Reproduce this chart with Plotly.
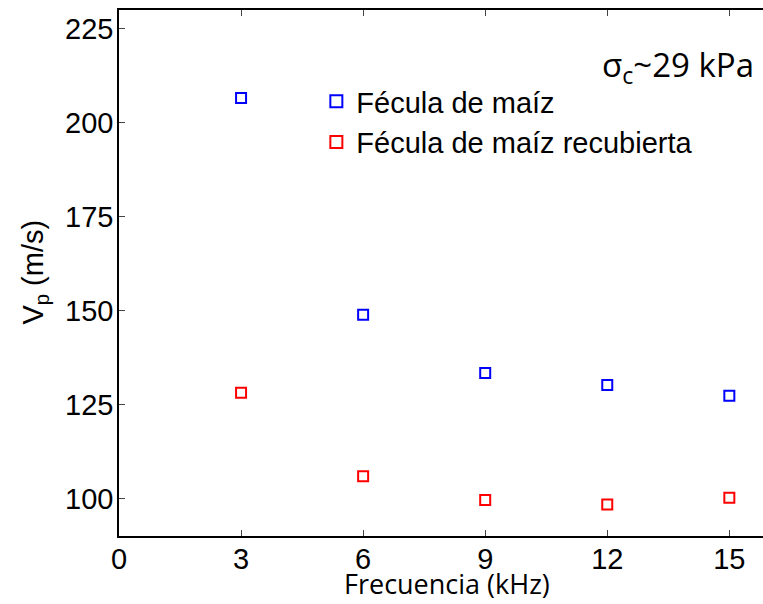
import plotly.graph_objects as go

freq = [3, 6, 9, 12, 15]
vp_plain = [206.6, 148.9, 133.4, 130.2, 127.3]
vp_coated = [128.1, 105.9, 99.6, 98.4, 100.2]
names = ["Fécula de maíz", "Fécula de maíz recubierta"]
colors = ["#0000ff", "#ff0000"]
x_ticks = [0, 3, 6, 9, 12, 15]
y_ticks = [100, 125, 150, 175, 200, 225]

W, H = 763, 604
# plot area in page pixels
PL, PR, PT, PB = 118.5, 763, 10, 536
L, T, R, B = PL, PT, W - PR, H - PB
pw = W - L - R
ph = H - T - B

fig = go.Figure()
for ys, nm, c in zip([vp_plain, vp_coated], names, colors):
    fig.add_trace(go.Scatter(
        x=freq, y=ys, mode="markers", name=nm,
        marker=dict(symbol="square-open", size=10, color=c, line=dict(width=2, color=c)),
    ))

def px_x(p):  # page px -> paper
    return (p - L) / pw

def px_y(p):
    return 1 - (p - T) / ph

axis_font = dict(family="Liberation Sans, Arial, sans-serif", size=29, color="black")

fig.update_layout(
    width=W, height=H,
    margin=dict(l=L, r=R, t=T, b=B, pad=0),
    paper_bgcolor="white", plot_bgcolor="white",
    showlegend=True,
    legend=dict(
        x=px_x(316), y=px_y(76), xanchor="left", yanchor="top",
        font=axis_font, bgcolor="rgba(0,0,0,0)",
        itemsizing="constant", tracegroupgap=0,
    ),
    xaxis=dict(
        range=[0, (PR - PL) / 40.72], tickmode="array", tickvals=x_ticks,
        ticks="inside", ticklen=6, tickcolor="#444", tickwidth=1,
        showline=True, linecolor="black", linewidth=1.5, mirror="ticks",
        showgrid=False, zeroline=False, tickfont=axis_font,
        ticklabelstandoff=-4,
    ),
    yaxis=dict(
        range=[90, 230], tickmode="array", tickvals=y_ticks,
        ticks="inside", ticklen=6, tickcolor="#444", tickwidth=1,
        showline=True, linecolor="black", linewidth=1.5, mirror=False,
        showgrid=False, zeroline=False, tickfont=axis_font,
        ticklabelstandoff=-2,
    ),
    annotations=[
        dict(text="V<sub>p</sub> (m/s)", xref="paper", yref="paper",
             x=px_x(34), y=px_y(272), xanchor="center", yanchor="middle",
             textangle=-90, showarrow=False, font=axis_font),
        dict(text="Frecuencia (kHz)", xref="paper", yref="paper",
             x=px_x(447), y=px_y(583), xanchor="center", yanchor="middle",
             showarrow=False,
             font=dict(family="Open Sans, Noto Sans, sans-serif", size=27, color="black")),
        dict(text="σ<sub>c</sub>~29 kPa", xref="paper", yref="paper",
             x=px_x(756), y=px_y(66), xanchor="right", yanchor="middle",
             showarrow=False,
             font=dict(family="Open Sans, Noto Sans, sans-serif", size=33, color="black")),
    ],
)

fig.write_html(
    "out.html",
    config={"displayModeBar": False},
    post_script="document.body.style.margin='0';document.body.style.overflow='hidden';",
)
